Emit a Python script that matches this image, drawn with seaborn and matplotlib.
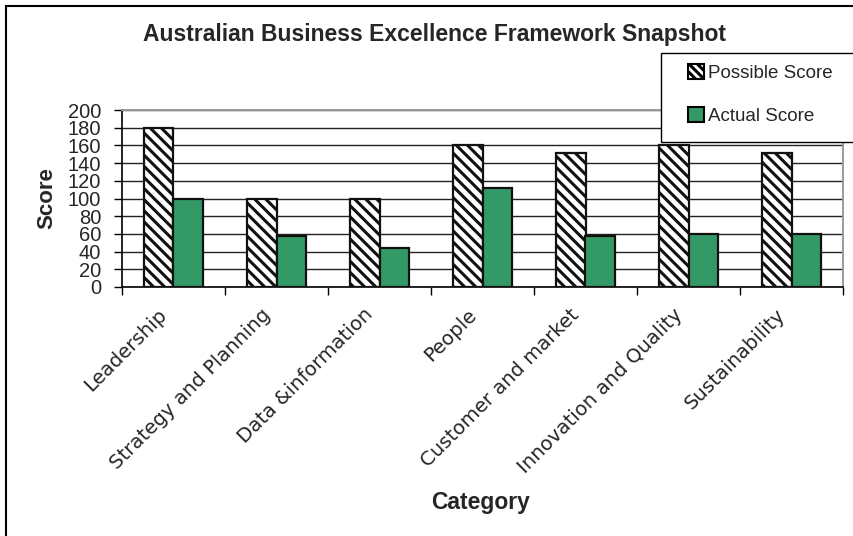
import matplotlib
matplotlib.use("Agg")
import matplotlib.pyplot as plt
import matplotlib.transforms as mtransforms
import numpy as np
import pandas as pd
import seaborn as sns
from matplotlib.patches import Rectangle, Patch

categories = [
    "Leadership",
    "Strategy and Planning",
    "Data &information",
    "People",
    "Customer and market",
    "Innovation and Quality",
    "Sustainability",
]
possible_score = [180, 100, 100, 160, 151, 160, 151]
actual_score = [100, 58, 44, 112, 58, 60, 60]
series_names = ["Possible Score", "Actual Score"]
y_ticks = list(range(0, 201, 20))

GREEN = "#339966"
HATCH = "\\\\\\"

sns.set_theme(style="white")
plt.rcParams["hatch.linewidth"] = 2.2
plt.rcParams["font.family"] = ["Liberation Sans", "DejaVu Sans"]

df = pd.DataFrame(
    {
        "Category": categories * 2,
        "Score": possible_score + actual_score,
        "Series": [series_names[0]] * len(categories) + [series_names[1]] * len(categories),
    }
)

fig = plt.figure(figsize=(8.54, 5.36), dpi=100)
ax = fig.add_axes([122 / 854, 1 - 287 / 536, (843 - 122) / 854, (287 - 110) / 536])

sns.barplot(
    data=df,
    x="Category",
    y="Score",
    hue="Series",
    order=categories,
    hue_order=series_names,
    palette={series_names[0]: "white", series_names[1]: GREEN},
    width=0.58,
    edgecolor="#111111",
    linewidth=1.6,
    saturation=1,
    legend=False,
    ax=ax,
    zorder=3,
)

n = len(categories)
for i, bar in enumerate(ax.patches[: 2 * n]):
    if i < n:
        bar.set_hatch(HATCH)
        bar.set_facecolor("white")

ax.set_ylim(0, 200)
ax.set_xlim(-0.5, n - 0.5)
ax.set_yticks(y_ticks)
ax.set_yticklabels([str(t) for t in y_ticks], fontsize=14.5, fontfamily="Liberation Sans")
ax.tick_params(axis="y", which="major", length=6, width=1, color="black", direction="out", pad=9, left=True)
ax.yaxis.grid(True, color="#222222", linewidth=1.0, zorder=0)
ax.set_axisbelow(True)

ax.set_xticks(range(n))
ax.set_xticklabels(categories, rotation=45, ha="right", rotation_mode="anchor",
                   fontsize=14.2, fontfamily="DejaVu Sans")
ax.tick_params(axis="x", which="major", length=0, pad=13)
shift = mtransforms.ScaledTranslation(-16 / 100, 0, fig.dpi_scale_trans)
for lbl in ax.get_xticklabels():
    lbl.set_transform(lbl.get_transform() + shift)
ax.set_xticks(np.arange(-0.5, n, 1), minor=True)
ax.tick_params(axis="x", which="minor", length=6, width=1, color="black", direction="out", bottom=True)

for side in ["left", "bottom"]:
    ax.spines[side].set_color("black")
    ax.spines[side].set_linewidth(1.2)
for side in ["top", "right"]:
    ax.spines[side].set_color("#999999")
    ax.spines[side].set_linewidth(1.4)

ax.set_ylabel("")
ax.set_xlabel("")
fig.text(47 / 854, 1 - 198 / 536, "Score", ha="center", va="center", rotation=90,
         fontsize=16, fontweight="bold")
fig.text(481 / 854, 1 - 502 / 536, "Category", ha="center", va="center", fontsize=16.5, fontweight="bold")

fig.text(435 / 854, 1 - 34 / 536, "Australian Business Excellence Framework Snapshot",
         ha="center", va="center", fontsize=16.5, fontweight="bold")

# legend frame runs off the right edge of the figure
fig.patches.append(
    Rectangle((661 / 854, 1 - 142 / 536), 0.5, 89 / 536, transform=fig.transFigure,
              facecolor="white", edgecolor="black", linewidth=1.0, zorder=5)
)
handles = [
    Patch(facecolor="white", edgecolor="black", hatch="\\\\\\\\", linewidth=1.5),
    Patch(facecolor=GREEN, edgecolor="black", linewidth=1.5),
]
leg = fig.legend(
    handles,
    series_names,
    loc="upper left",
    bbox_to_anchor=(688 / 854, 1 - 64 / 536),
    frameon=False,
    fontsize=13.5,
    handlelength=0.85,
    handleheight=0.85,
    handletextpad=0.2,
    labelspacing=1.35,
    borderpad=0.0,
    borderaxespad=0,
)
leg.set_zorder(6)

fig.patches.append(
    Rectangle((6 / 854, -0.1), 1.2, 1.1 - 6 / 536, transform=fig.transFigure,
              fill=False, edgecolor="black", linewidth=1.5, zorder=0)
)

fig.savefig("out.png", dpi=100)
